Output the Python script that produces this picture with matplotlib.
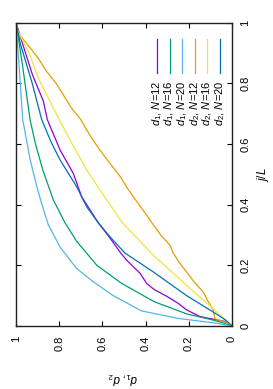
import matplotlib
matplotlib.use("Agg")
import matplotlib.pyplot as plt

plt.rcParams["font.family"] = ["Liberation Sans", "DejaVu Sans"]
plt.rcParams["mathtext.fontset"] = "custom"
plt.rcParams["mathtext.rm"] = "Liberation Sans"
plt.rcParams["mathtext.it"] = "Liberation Sans:italic"

# curves: j/L values and the matching d values
jl_d1_n12 = [0, 0.014, 0.031, 0.053, 0.075, 0.097, 0.12, 0.14, 0.174, 0.217, 0.244, 0.29,
             0.34, 0.38, 0.426, 0.503, 0.58, 0.68, 0.74, 0.83, 0.92, 1.0]
d1_n12 = [0, 0.025, 0.148, 0.21, 0.25, 0.30, 0.36, 0.395, 0.426, 0.488, 0.519, 0.565,
          0.619, 0.655, 0.696, 0.735, 0.796, 0.855, 0.873, 0.925, 0.965, 1.0]

jl_d1_n16 = [0, 0.01, 0.02, 0.04, 0.08, 0.14, 0.2, 0.28, 0.34, 0.415, 0.51, 0.6, 0.68,
             0.85, 1.0]
d1_n16 = [0, 0.04, 0.09, 0.21, 0.36, 0.51, 0.626, 0.72, 0.773, 0.827, 0.874, 0.91, 0.935,
          0.968, 1.0]

jl_d1_n20 = [0, 0.005, 0.01, 0.025, 0.05, 0.085, 0.1, 0.15, 0.19, 0.26, 0.333, 0.4,
             0.46, 0.55, 0.68, 0.85, 1.0]
d1_n20 = [0, 0.04, 0.08, 0.25, 0.42, 0.51, 0.55, 0.65, 0.72, 0.796, 0.85, 0.88, 0.904,
          0.935, 0.969, 0.985, 1.0]

jl_d2_n12 = [0, 0.01, 0.024, 0.052, 0.08, 0.112, 0.145, 0.178, 0.21, 0.24, 0.266, 0.3,
             0.333, 0.38, 0.426, 0.46, 0.49, 0.536, 0.58, 0.62, 0.646, 0.68, 0.72, 0.762,
             0.80, 0.84, 0.88, 0.917, 0.965, 1.0]
d2_n12 = [0, 0.02, 0.079, 0.087, 0.11, 0.133, 0.175, 0.21, 0.245, 0.272, 0.287, 0.33,
          0.364, 0.41, 0.457, 0.49, 0.515, 0.565, 0.612, 0.65, 0.673, 0.70, 0.745, 0.781,
          0.815, 0.86, 0.895, 0.935, 0.99, 1.0]

jl_d2_n16 = [0, 0.057, 0.134, 0.233, 0.34, 0.415, 0.514, 0.6, 0.68, 0.817, 0.9, 0.97, 1.0]
d2_n16 = [0, 0.087, 0.21, 0.364, 0.507, 0.58, 0.673, 0.74, 0.80, 0.897, 0.94, 0.99, 1.0]

jl_d2_n20 = [0, 0.02, 0.046, 0.1, 0.178, 0.24, 0.29, 0.34, 0.393, 0.46, 0.547, 0.61,
             0.68, 0.74, 0.8, 0.93, 1.0]
d2_n20 = [0, 0.03, 0.087, 0.21, 0.364, 0.495, 0.56, 0.619, 0.673, 0.72, 0.796, 0.84,
          0.881, 0.903, 0.925, 0.98, 1.0]

labels = [r"$d_1$, $N$=12", r"$d_1$, $N$=16", r"$d_1$, $N$=20",
          r"$d_2$, $N$=12", r"$d_2$, $N$=16", r"$d_2$, $N$=20"]
colors = ["#9400d3", "#009e73", "#56b4e9", "#e69f00", "#f0e442", "#0072b2"]

tick_vals = [0, 0.2, 0.4, 0.6, 0.8, 1]
tick_labels = ["0", "0.2", "0.4", "0.6", "0.8", "1"]

series = [(jl_d1_n12, d1_n12), (jl_d1_n16, d1_n16), (jl_d1_n20, d1_n20),
          (jl_d2_n12, d2_n12), (jl_d2_n16, d2_n16), (jl_d2_n20, d2_n20)]

fig = plt.figure(figsize=(2.73, 3.89), dpi=100)
ax = fig.add_axes([16 / 273, 1 - 326 / 389, 216 / 273, 303.5 / 389])

# the chart is drawn turned a quarter turn: d runs right-to-left, j/L bottom-to-top
for (jl, d), c in zip(series, colors):
    ax.plot(d, jl, color=c, lw=0.9)

ax.set_xlim(1, 0)
ax.set_ylim(0, 1)
ax.set_xticks(tick_vals)
ax.set_xticklabels(tick_labels, rotation=90, fontsize=8)
ax.set_yticks(tick_vals)
ax.set_yticklabels(tick_labels, rotation=90, fontsize=8, va="center")
ax.tick_params(direction="in", length=3.5, width=0.8, top=True, right=True,
               labelleft=False, labelright=True)
ax.tick_params(axis="x", pad=7)
ax.tick_params(axis="y", pad=6)
for s in ax.spines.values():
    s.set_linewidth(1.0)
    s.set_color("#222222")

ax.set_xlabel(r"$d_1$, $d_2$", rotation=180, fontsize=8.5, va="center", ha="center")
ax.xaxis.set_label_coords(0.495, -0.171)
ax.yaxis.set_label_position("right")
ax.set_ylabel(r"$j/L$", rotation=90, fontsize=8.5, va="center", ha="center")
ax.yaxis.set_label_coords(1.143, 0.4975)

# legend, turned like the rest
for i, (lab, c) in enumerate(zip(labels, colors)):
    xa = (157 + 12.6 * i - 16) / 216
    ax.plot([xa, xa], [(326 - 73) / 303.5, (326 - 39) / 303.5], color=c, lw=0.9,
            transform=ax.transAxes)
    ax.text(xa, (326 - 81) / 303.5, lab, rotation=90, rotation_mode="anchor",
            ha="right", va="center", fontsize=8, transform=ax.transAxes)

fig.savefig("out.png", dpi=100)
